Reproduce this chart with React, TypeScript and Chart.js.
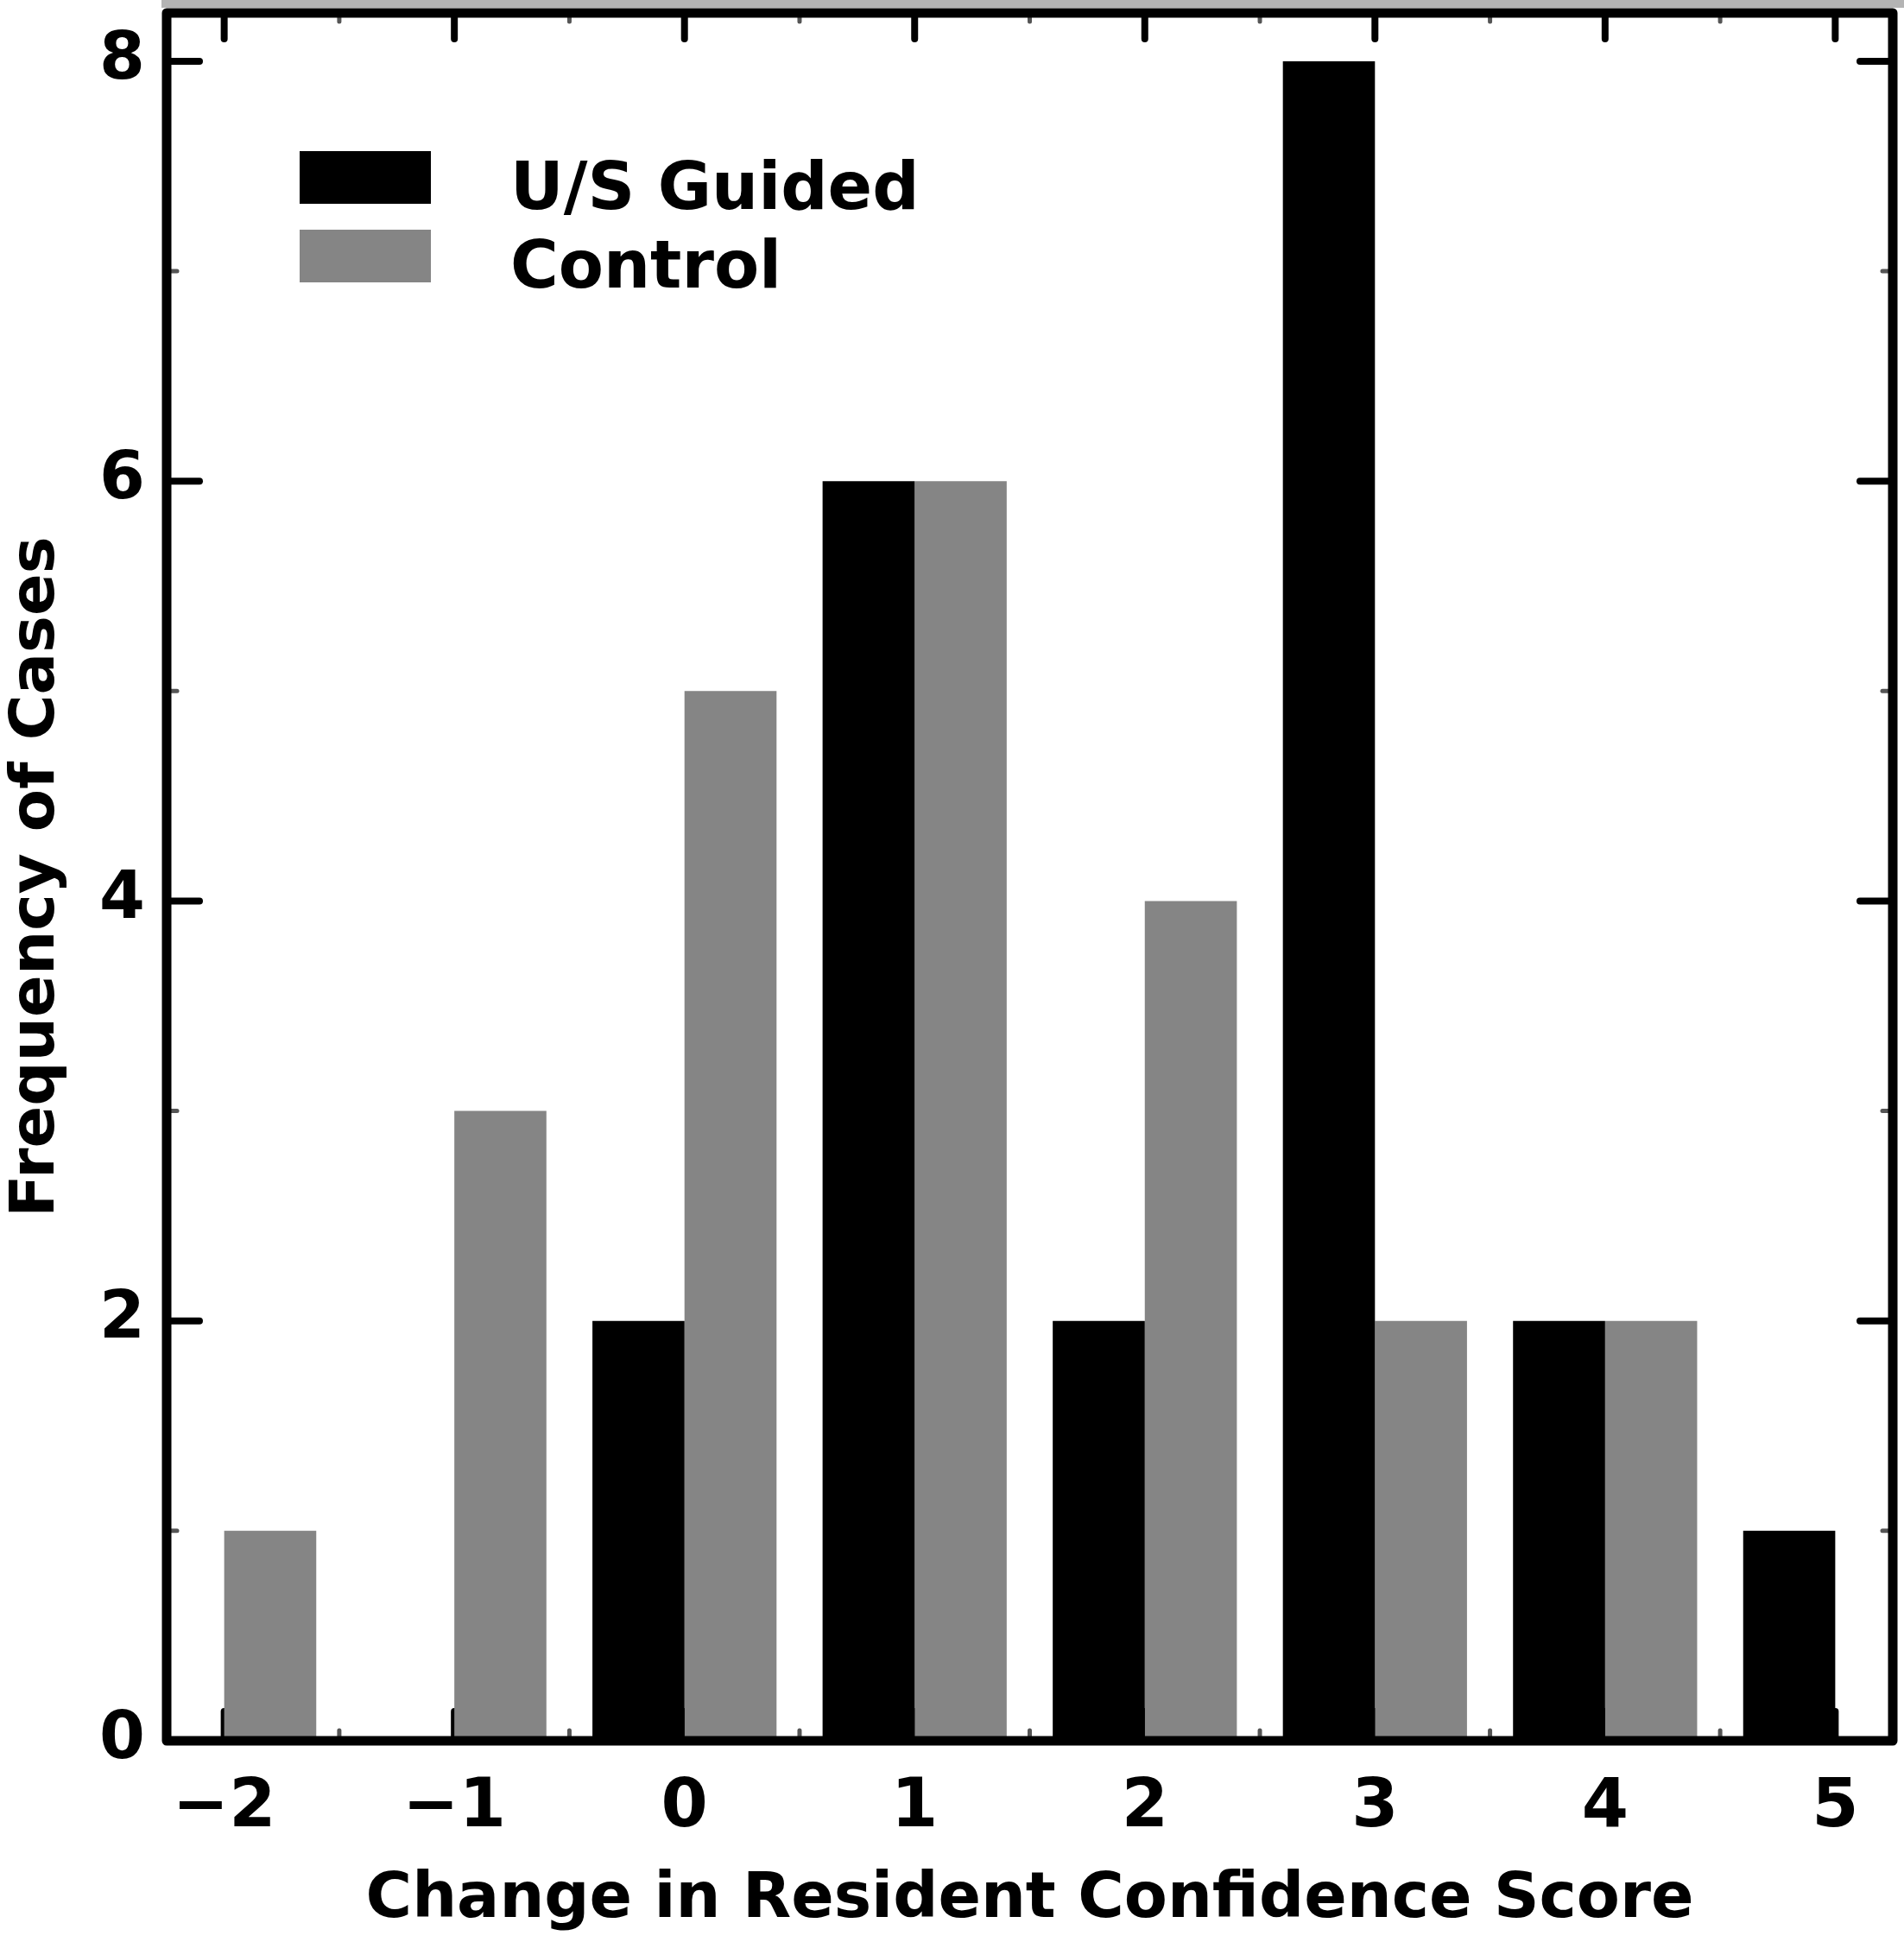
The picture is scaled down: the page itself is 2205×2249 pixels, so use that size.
import { useEffect, useRef } from "react"
import { Chart, type ChartConfiguration, type Plugin, registerables } from "chart.js"

Chart.register(...registerables)

// change in resident confidence score (x) and number of cases per group
const scores = [-2, -1, 0, 1, 2, 3, 4, 5]
const usGuided = [0, 0, 2, 6, 2, 8, 2, 1]
const control = [1, 3, 5, 6, 4, 2, 2, 0]

const seriesNames = ["U/S Guided", "Control"]
const seriesColors = ["#000000", "#858585"]

const yTicks = [0, 2, 4, 6, 8]
const yMinorTicks = [1, 3, 5, 7]
const xMinorTicks = [-1.5, -0.5, 0.5, 1.5, 2.5, 3.5, 4.5]

const FONT = "'DejaVu Sans', Verdana, sans-serif"

// inward ticks on all four sides, drawn under the bars
const insideTicks: Plugin = {
  id: "insideTicks",
  beforeDatasetsDraw(chart) {
    const { ctx, chartArea, scales } = chart
    const { left, right, top, bottom } = chartArea
    const x = scales.x
    const y = scales.y
    const line = (x1: number, y1: number, x2: number, y2: number) => {
      ctx.beginPath()
      ctx.moveTo(x1, y1)
      ctx.lineTo(x2, y2)
      ctx.stroke()
    }
    ctx.save()
    ctx.strokeStyle = "#000"
    ctx.lineCap = "round"
    ctx.lineWidth = 8
    scores.forEach((v) => {
      const px = x.getPixelForValue(v)
      line(px, bottom, px, bottom - 34)
      line(px, top, px, top + 30)
    })
    yTicks.forEach((v) => {
      const py = y.getPixelForValue(v)
      line(left, py, left + 38, py)
      line(right, py, right - 38, py)
    })
    ctx.lineWidth = 5
    ctx.strokeStyle = "#555"
    xMinorTicks.forEach((v) => {
      const px = x.getPixelForValue(v)
      line(px, bottom, px, bottom - 12)
      line(px, top, px, top + 10)
    })
    yMinorTicks.forEach((v) => {
      const py = y.getPixelForValue(v)
      line(left, py, left + 12, py)
      line(right, py, right - 12, py)
    })
    ctx.restore()
  },
  afterDatasetsDraw(chart) {
    const { ctx, chartArea, width } = chart
    const { left, right, top, bottom } = chartArea
    ctx.save()
    ctx.fillStyle = "#b4b4b4"
    ctx.fillRect(left - 6, 0, width - left + 6, Math.max(top - 6, 0))
    ctx.strokeStyle = "#000"
    ctx.lineWidth = 11
    ctx.lineJoin = "round"
    ctx.strokeRect(left, top, right - left, bottom - top)
    ctx.restore()
  },
}

// legend in the upper left of the plot
const innerLegend: Plugin = {
  id: "innerLegend",
  afterDraw(chart) {
    const { ctx, chartArea } = chart
    const boxX = chartArea.left + 154
    const boxY = chartArea.top + 160
    ctx.save()
    ctx.font = `bold 76px ${FONT}`
    ctx.textBaseline = "alphabetic"
    ctx.textAlign = "left"
    chart.data.datasets.forEach((ds, i) => {
      const rowY = boxY + i * 91
      ctx.fillStyle = ds.backgroundColor as string
      ctx.fillRect(boxX, rowY, 152, 61)
      ctx.fillStyle = "#000"
      ctx.fillText(ds.label ?? "", boxX + 244, rowY + 67)
    })
    ctx.restore()
  },
}

export default function App() {
  const chartRef = useRef<HTMLCanvasElement>(null)
  const chartInstance = useRef<Chart | null>(null)

  useEffect(() => {
    document.body.style.margin = "0"
    if (!chartRef.current) return
    if (chartInstance.current) chartInstance.current.destroy()
    const ctx = chartRef.current.getContext("2d")
    if (!ctx) return

    const config: ChartConfiguration<"bar"> = {
      type: "bar",
      data: {
        datasets: [
          {
            label: seriesNames[0],
            data: scores.map((s, i) => ({ x: s, y: usGuided[i] })) as any,
            backgroundColor: seriesColors[0],
            borderWidth: 0,
            barPercentage: 1,
            categoryPercentage: 0.8,
          },
          {
            label: seriesNames[1],
            data: scores.map((s, i) => ({ x: s, y: control[i] })) as any,
            backgroundColor: seriesColors[1],
            borderWidth: 0,
            barPercentage: 1,
            categoryPercentage: 0.8,
          },
        ],
      },
      options: {
        animation: false,
        responsive: true,
        maintainAspectRatio: false,
        devicePixelRatio: 1,
        layout: { padding: { left: 0, top: 15, right: 13, bottom: 0 } },
        plugins: {
          legend: { display: false },
          tooltip: { enabled: false },
        },
        scales: {
          x: {
            type: "linear",
            offset: false,
            min: -2.25,
            max: 5.25,
            grid: { display: false, drawTicks: false },
            border: { display: false },
            afterBuildTicks: (axis) => {
              axis.ticks = scores.map((v) => ({ value: v }))
            },
            afterFit: (axis: any) => {
              axis.height = 233
              axis.paddingLeft = 0
              axis.paddingRight = 0
            },
            ticks: {
              padding: 32,
              color: "#000",
              font: { family: FONT, size: 78, weight: "bold" },
              callback: (v) => String(v).replace("-", "\u2212"),
            },
            title: {
              display: true,
              text: "Change in Resident Confidence Score",
              color: "#000",
              font: { family: FONT, size: 73, weight: "bold" },
              padding: { top: 0, bottom: 4 },
            },
          },
          y: {
            type: "linear",
            min: 0,
            max: 8.23,
            grid: { display: false, drawTicks: false },
            border: { display: false },
            afterBuildTicks: (axis) => {
              axis.ticks = yTicks.map((v) => ({ value: v }))
            },
            afterFit: (axis: any) => {
              axis.width = 193
              axis.paddingTop = 0
              axis.paddingBottom = 0
            },
            ticks: {
              padding: 25,
              color: "#000",
              font: { family: FONT, size: 76, weight: "bold" },
            },
            title: {
              display: true,
              text: "Frequency of Cases",
              color: "#000",
              font: { family: FONT, size: 72, weight: "bold" },
              padding: { top: 0, bottom: 0 },
            },
          },
        },
      },
      plugins: [insideTicks, innerLegend],
    }

    chartInstance.current = new Chart(ctx, config)

    return () => {
      if (chartInstance.current) {
        chartInstance.current.destroy()
        chartInstance.current = null
      }
    }
  }, [])

  return (
    <div style={{ position: "relative", width: 2205, height: 2249, background: "#fff" }}>
      <canvas ref={chartRef} />
    </div>
  )
}
